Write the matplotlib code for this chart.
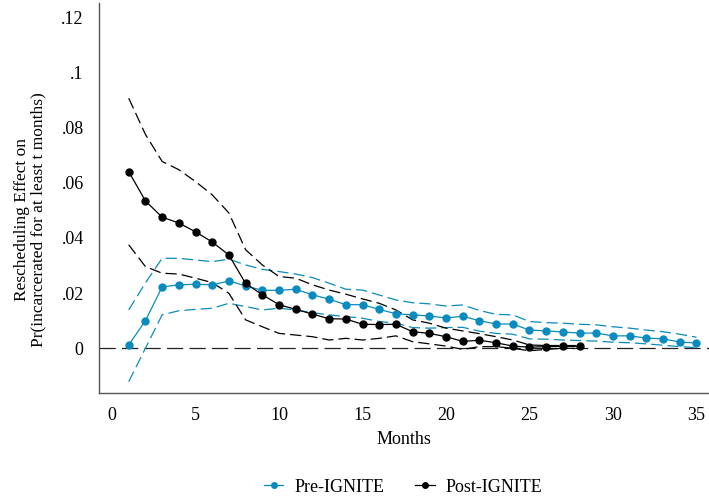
import numpy as np
import matplotlib
matplotlib.use("Agg")
import matplotlib.pyplot as plt

plt.rcParams['font.family'] = 'serif'
plt.rcParams['font.serif'] = ['Liberation Serif', 'DejaVu Serif']

# Rescheduling effect estimates with confidence bounds, by month
months_pre = np.arange(1, 36)
pre_est = [0.0012, 0.0100, 0.0222, 0.0230, 0.0232, 0.0230, 0.0244, 0.0226, 0.0210, 0.0210,
           0.0214, 0.0194, 0.0178, 0.0158, 0.0158, 0.0141, 0.0125, 0.0121, 0.0117, 0.0110,
           0.0116, 0.0100, 0.0088, 0.0088, 0.0066, 0.0063, 0.0059, 0.0055, 0.0055, 0.0045,
           0.0045, 0.0037, 0.0034, 0.0023, 0.0019]
pre_hi = [0.0139, 0.0237, 0.0326, 0.0326, 0.0320, 0.0314, 0.0323, 0.0302, 0.0286, 0.0278,
          0.0269, 0.0256, 0.0236, 0.0214, 0.0211, 0.0193, 0.0175, 0.0165, 0.0161, 0.0153,
          0.0157, 0.0137, 0.0123, 0.0121, 0.0097, 0.0093, 0.0091, 0.0087, 0.0085, 0.0078,
          0.0073, 0.0066, 0.0060, 0.0051, 0.0040]
pre_lo = [-0.0121, 0.0000, 0.0121, 0.0136, 0.0141, 0.0145, 0.0163, 0.0151, 0.0139, 0.0145,
          0.0139, 0.0129, 0.0121, 0.0115, 0.0109, 0.0097, 0.0091, 0.0075, 0.0073, 0.0075,
          0.0076, 0.0062, 0.0054, 0.0051, 0.0034, 0.0033, 0.0030, 0.0028, 0.0026, 0.0022,
          0.0020, 0.0016, 0.0011, 0.0006, 0.0002]

months_post = np.arange(1, 29)
post_est = [0.0640, 0.0534, 0.0475, 0.0454, 0.0422, 0.0385, 0.0338, 0.0235, 0.0194, 0.0158,
            0.0141, 0.0124, 0.0107, 0.0106, 0.0087, 0.0086, 0.0087, 0.0060, 0.0054, 0.0042,
            0.0025, 0.0029, 0.0020, 0.0008, 0.0004, 0.0006, 0.0007, 0.0007]
post_hi = [0.0906, 0.0775, 0.0677, 0.0647, 0.0604, 0.0556, 0.0490, 0.0357, 0.0302, 0.0260,
           0.0254, 0.0230, 0.0211, 0.0196, 0.0179, 0.0163, 0.0139, 0.0103, 0.0091, 0.0073,
           0.0063, 0.0053, 0.0042, 0.0030, 0.0012, 0.0010, 0.0010, 0.0010]
post_lo = [0.0375, 0.0296, 0.0272, 0.0269, 0.0254, 0.0238, 0.0199, 0.0103, 0.0078, 0.0054,
           0.0048, 0.0042, 0.0030, 0.0036, 0.0030, 0.0036, 0.0045, 0.0024, 0.0016, 0.0008,
           -0.0004, 0.0006, 0.0006, 0.0000, -0.0009, -0.0004, 0.0000, 0.0000]

yticks = [0, 0.02, 0.04, 0.06, 0.08, 0.1, 0.12]
ytick_labels = ['0', '.02', '.04', '.06', '.08', '.1', '.12']
xticks = [0, 5, 10, 15, 20, 25, 30, 35]

blue = '#0a8bbf'
fs = 13

fig = plt.figure(figsize=(7.09, 5.01), dpi=100)
ax = fig.add_axes([99 / 709, 108 / 501, 1 - 99 / 709, 390 / 501])

dash = (0, (9, 4))
ax.axhline(0, color='#222222', lw=0.9, ls=(0, (13, 5)), zorder=1)

ax.plot(months_pre, pre_hi, color=blue, lw=0.9, ls=dash)
ax.plot(months_pre, pre_lo, color=blue, lw=0.9, ls=dash)
ax.plot(months_post, post_hi, color='black', lw=0.9, ls=dash)
ax.plot(months_post, post_lo, color='black', lw=0.9, ls=dash)

ax.plot(months_pre, pre_est, color=blue, lw=0.9, marker='o', ms=5, label='Pre-IGNITE')
ax.plot(months_post, post_est, color='black', lw=0.9, marker='o', ms=5, label='Post-IGNITE')

ax.set_xlim(-0.78, 35.75)
ax.set_ylim(-0.0162, 0.1251)
ax.set_xticks(xticks)
ax.set_yticks(yticks)
ax.set_yticklabels(ytick_labels)
ax.tick_params(length=0, labelsize=fs)
ax.tick_params(axis='x', pad=10)
ax.tick_params(axis='y', pad=11)

for side in ['top', 'right']:
    ax.spines[side].set_visible(False)
for side in ['left', 'bottom']:
    ax.spines[side].set_color('#555555')
    ax.spines[side].set_linewidth(1.0)

ax.set_xlabel('Months', fontsize=fs)
ax.xaxis.set_label_coords(0.5, -0.097)
ax.set_ylabel('Rescheduling Effect on\nPr(incarcerated for at least t months)',
              fontsize=12.5, linespacing=1.0, va='center')
ax.yaxis.set_label_coords(-0.113, 0.4436)

handles, labels = ax.get_legend_handles_labels()
leg = fig.legend(handles, labels, loc='center', bbox_to_anchor=(403 / 709, 14 / 501),
                 ncol=2, frameon=False, fontsize=fs, handlelength=1.1,
                 handletextpad=0.6, columnspacing=1.7, markerscale=0.8)

fig.savefig('out.png', dpi=100)
